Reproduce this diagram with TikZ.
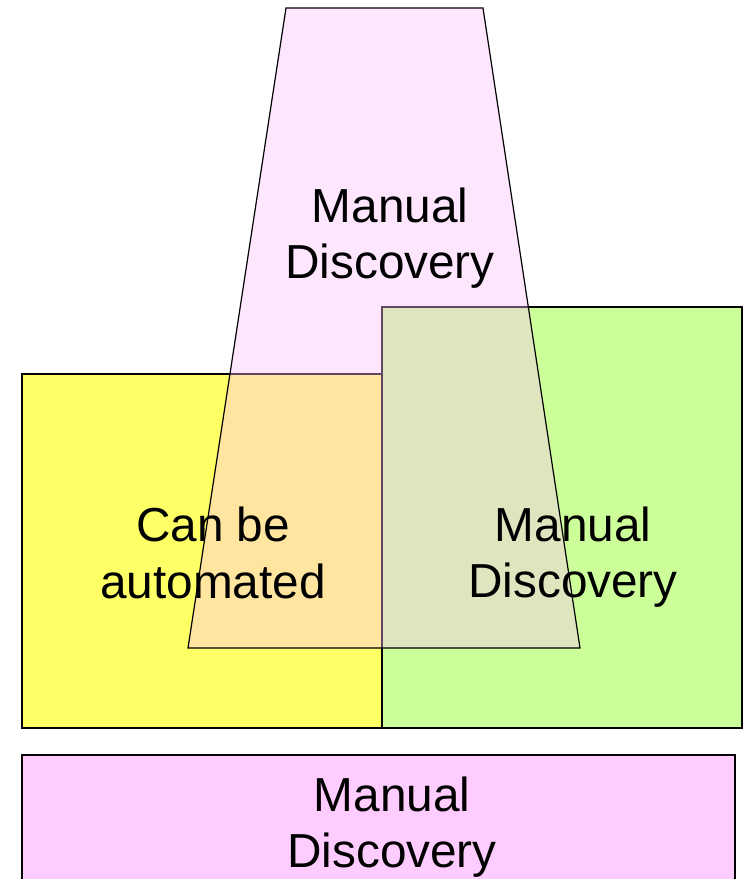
\documentclass[tikz,border=0pt]{standalone}
\usepackage{fontspec}
\setmainfont{Liberation Sans}
\usepackage{tikz}
\newcommand*{\xMin}{0}
\newcommand*{\xMax}{744}
\newcommand*{\yMin}{0}
\newcommand*{\yMax}{879}
\definecolor{autoyellow}{RGB}{255,255,102}
\definecolor{mangreen}{RGB}{204,255,153}
\definecolor{manpink}{RGB}{255,189,255}
\definecolor{basepink}{RGB}{255,204,255}
\tikzset{
    area/.style={draw=black,line width=0.9pt},
    lbl/.style={align=center,font=\fontsize{35.8}{42.5}\selectfont,inner sep=0pt}
}

\begin{document}
\begin{tikzpicture}[x=0.75pt,y=-0.75pt]
	\useasboundingbox (\xMin,\yMin) rectangle (\xMax,\yMax);
	\clip (\xMin,\yMin) rectangle (\xMax,\yMax);

	% the two halves
	\draw [area,fill=autoyellow] (22,374) rectangle (382,728);
	\draw [area,fill=mangreen] (382,307) rectangle (742,728);

	% the funnel on top
	\draw [area,fill=manpink,fill opacity=0.38] (286,8) -- (483,8) -- (580,648) -- (188,648) -- cycle;

	% the bar below
	\draw [area,fill=basepink] (22,755) rectangle (735,900);

	\node [lbl] (funnel) at (390,238) {Manual\\Discovery};
	\node [lbl] (auto) at (213,553) {Can be\\automated};
	\node [lbl] (manual) at (573,557) {Manual\\Discovery};
	\node [lbl] (base) at (392,827) {Manual\\Discovery};

\end{tikzpicture}
\end{document}
